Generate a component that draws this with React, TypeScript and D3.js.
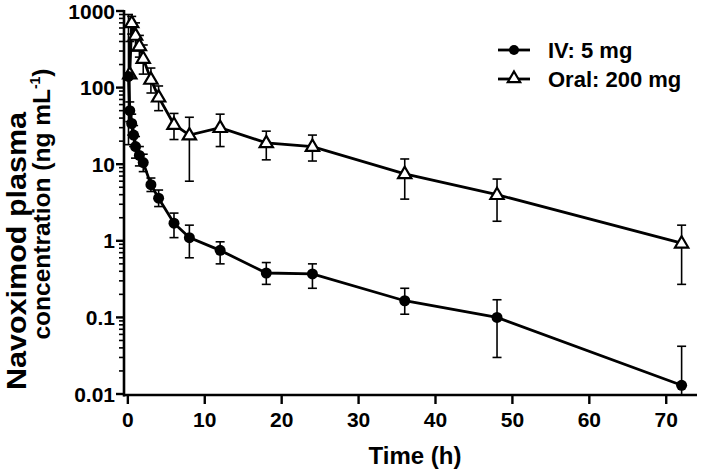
import React from "react";
import * as d3 from "d3";

const ivTimes = [0.083, 0.25, 0.5, 0.75, 1, 1.5, 2, 3, 4, 6, 8, 12, 18, 24, 36, 48, 72];
const ivMean = [140, 50, 34, 24, 17, 13, 10.5, 5.4, 3.6, 1.7, 1.1, 0.75, 0.38, 0.37, 0.165, 0.1, 0.013];
const ivUpper = [900, 65, 45, 32, 23, 17, 13.5, 6.6, 4.6, 2.3, 1.6, 0.97, 0.52, 0.5, 0.24, 0.17, 0.042];
const ivLower = [18, 36, 24, 17, 12, 9.5, 8, 4.4, 2.8, 1.1, 0.6, 0.5, 0.27, 0.24, 0.11, 0.03, NaN];

const oralTimes = [0.25, 0.5, 1, 1.5, 2, 3, 4, 6, 8, 12, 18, 24, 36, 48, 72];
const oralMean = [150, 700, 480, 350, 240, 128, 75, 33, 24, 30, 19, 17, 7.5, 4.0, 0.93];
const oralUpper = [400, 850, 700, 480, 360, 180, 105, 46, 41, 45, 27, 24, 11.7, 6.4, 1.6];
const oralLower = [50, 500, 300, 250, 150, 85, 50, 21, 6, 17, 11.4, 11, 3.5, 1.8, 0.27];

const xTicks = [0, 10, 20, 30, 40, 50, 60, 70];
const yTicks = [0.01, 0.1, 1, 10, 100, 1000];
const yTickLabels = ["0.01", "0.1", "1", "10", "100", "1000"];
const seriesNames = ["IV: 5 mg", "Oral: 200 mg"];

const W = 709;
const H = 472;
const FONT = "'Liberation Sans', Arial, sans-serif";

export default function App() {
  const x = d3.scaleLinear().domain([-0.5, 74]).range([124, 697]);
  const y = d3.scaleLog().domain([0.01, 1000]).range([394, 11]);

  const line = d3
    .line<[number, number]>()
    .x((d) => x(d[0]))
    .y((d) => y(d[1]));

  const ivData: [number, number][] = ivTimes.map((t, i) => [t, ivMean[i]]);
  const oralData: [number, number][] = oralTimes.map((t, i) => [t, oralMean[i]]);

  const minorTicks: number[] = [];
  for (let e = -2; e < 3; e++) {
    for (let m = 2; m <= 9; m++) minorTicks.push(m * Math.pow(10, e));
  }

  const axisY = 395;
  const axisX = 124;

  const errBars = (times: number[], up: number[], lo: number[], key: string) =>
    times.map((t, i) => {
      const cx = x(t);
      const top = y(up[i]);
      const bot = isNaN(lo[i]) ? axisY : y(lo[i]);
      return (
        <g key={key + i} stroke="#000" strokeWidth={1.6}>
          <line x1={cx} x2={cx} y1={top} y2={bot} />
          <line x1={cx - 4.5} x2={cx + 4.5} y1={top} y2={top} />
          {!isNaN(lo[i]) && <line x1={cx - 4.5} x2={cx + 4.5} y1={bot} y2={bot} />}
        </g>
      );
    });

  const tri = (cx: number, cy: number, s: number) =>
    `M${cx},${cy - s} L${cx + s * 0.95},${cy + s * 0.62} L${cx - s * 0.95},${cy + s * 0.62} Z`;

  return (
    <svg
      width={W}
      height={H}
      style={{ position: "absolute", left: 0, top: 0, background: "#fff" }}
      fontFamily={FONT}
    >
      <rect x={0} y={0} width={W} height={H} fill="#fff" />
      {errBars(oralTimes, oralUpper, oralLower, "o")}
      {errBars(ivTimes, ivUpper, ivLower, "i")}
      <path d={line(oralData) || ""} fill="none" stroke="#000" strokeWidth={2.8} />
      <path d={line(ivData) || ""} fill="none" stroke="#000" strokeWidth={2.8} />
      {oralData.map((d, i) => (
        <path key={"ot" + i} d={tri(x(d[0]), y(d[1]), 7)} fill="#fff" stroke="#000" strokeWidth={2.2} />
      ))}
      {ivData.map((d, i) => (
        <circle key={"ic" + i} cx={x(d[0])} cy={y(d[1])} r={5.5} fill="#000" />
      ))}

      {/* y axis */}
      <line x1={axisX} x2={axisX} y1={y(1000) - 1} y2={axisY + 1.5} stroke="#000" strokeWidth={2.6} />
      {minorTicks.map((v, i) => (
        <line key={"mt" + i} x1={axisX - 5} x2={axisX} y1={y(v)} y2={y(v)} stroke="#000" strokeWidth={1.6} />
      ))}
      {yTicks.map((v, i) => (
        <g key={"yt" + i}>
          <line x1={axisX - 8} x2={axisX} y1={y(v)} y2={y(v)} stroke="#000" strokeWidth={2.4} />
          <text x={axisX - 9} y={y(v)} dy="0.36em" textAnchor="end" fontSize={21} fontWeight="bold">
            {yTickLabels[i]}
          </text>
        </g>
      ))}

      {/* x axis */}
      <line x1={axisX - 1} x2={697} y1={axisY} y2={axisY} stroke="#000" strokeWidth={2.6} />
      {xTicks.map((v) => (
        <g key={"xt" + v}>
          <line x1={x(v)} x2={x(v)} y1={axisY} y2={axisY + 9} stroke="#000" strokeWidth={2.4} />
          <text x={x(v)} y={axisY + 32} textAnchor="middle" fontSize={21} fontWeight="bold">
            {v}
          </text>
        </g>
      ))}

      {/* axis titles */}
      <text x={415} y={464} textAnchor="middle" fontSize={24} fontWeight="bold">
        Time (h)
      </text>
      <text
        transform="translate(26,251) rotate(-90)"
        textAnchor="middle"
        fontSize={28}
        fontWeight="bold"
        textLength={278}
        lengthAdjust="spacingAndGlyphs"
      >
        Navoximod plasma
      </text>
      <text
        transform="translate(50,204) rotate(-90)"
        textAnchor="middle"
        fontSize={24.5}
        fontWeight="bold"
      >
        concentration (ng mL
        <tspan fontSize={14} dy={-10}>-1</tspan>
        <tspan dy={10}>)</tspan>
      </text>

      {/* legend */}
      <g>
        <line x1={498} x2={530} y1={50} y2={50} stroke="#000" strokeWidth={2.8} />
        <circle cx={514} cy={50} r={5} fill="#000" />
        <text x={548} y={50} dy="0.36em" fontSize={22} fontWeight="bold">
          {seriesNames[0]}
        </text>
        <line x1={498} x2={530} y1={79} y2={79} stroke="#000" strokeWidth={2.8} />
        <path d={tri(514, 78, 6.5)} fill="#fff" stroke="#000" strokeWidth={2.2} />
        <text x={548} y={79} dy="0.36em" fontSize={22} fontWeight="bold">
          {seriesNames[1]}
        </text>
      </g>
    </svg>
  );
}
